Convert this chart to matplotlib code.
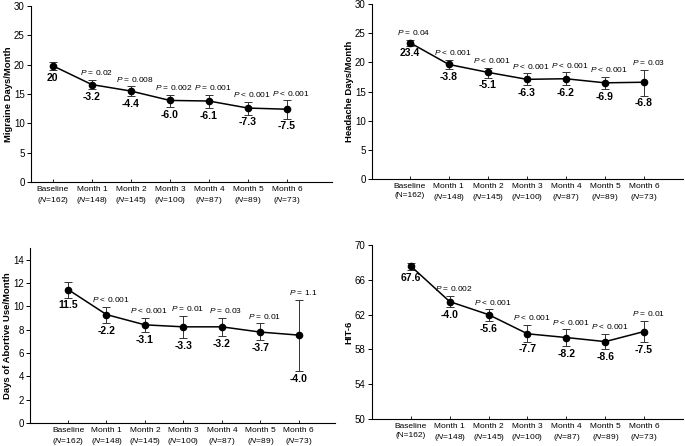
import matplotlib
matplotlib.use("Agg")
import matplotlib.pyplot as plt

plt.rcParams['font.family'] = ['Liberation Sans', 'DejaVu Sans']
plt.rcParams['mathtext.fontset'] = 'custom'
plt.rcParams['mathtext.rm'] = 'Liberation Sans'
plt.rcParams['mathtext.it'] = 'Liberation Sans:italic'
plt.rcParams['mathtext.bf'] = 'Liberation Sans:bold'

months = ['Baseline', 'Month 1', 'Month 2', 'Month 3', 'Month 4', 'Month 5', 'Month 6']
n_counts = [162, 148, 145, 100, 87, 89, 73]

# migraine days / month
mig_mean = [19.8, 16.6, 15.5, 13.9, 13.8, 12.6, 12.4]
mig_hi = [20.5, 17.4, 16.3, 14.85, 14.85, 13.7, 13.9]
mig_lo = [19.1, 15.8, 14.6, 12.8, 12.6, 11.5, 10.8]
mig_change = ['20', '-3.2', '-4.4', '-6.0', '-6.1', '-7.3', '-7.5']
mig_p = ['', '= 0.02', '= 0.008', '= 0.002', '= 0.001', '< 0.001', '< 0.001']

# headache days / month
hd_mean = [23.4, 19.65, 18.3, 17.1, 17.2, 16.5, 16.6]
hd_hi = [23.9, 20.4, 19.1, 18.1, 18.3, 17.5, 18.7]
hd_lo = [22.9, 18.9, 17.4, 16.1, 16.1, 15.4, 14.3]
hd_change = ['23.4', '-3.8', '-5.1', '-6.3', '-6.2', '-6.9', '-6.8']
hd_p = ['= 0.04', '< 0.001', '< 0.001', '< 0.001', '< 0.001', '< 0.001', '= 0.03']

# days of abortive use / month
ab_mean = [11.45, 9.3, 8.42, 8.25, 8.25, 7.8, 7.54]
ab_hi = [12.1, 9.96, 9.0, 9.2, 9.0, 8.54, 10.56]
ab_lo = [10.76, 8.6, 7.77, 7.26, 7.46, 7.09, 4.44]
ab_change = ['11.5', '-2.2', '-3.1', '-3.3', '-3.2', '-3.7', '-4.0']
ab_p = ['', '< 0.001', '< 0.001', '= 0.01', '= 0.03', '= 0.01', '= 1.1']

# HIT-6
hit_mean = [67.58, 63.5, 62.0, 59.8, 59.37, 58.9, 60.06]
hit_hi = [67.97, 64.2, 62.6, 60.8, 60.3, 59.8, 61.3]
hit_lo = [67.1, 62.9, 61.3, 58.9, 58.4, 58.0, 58.8]
hit_change = ['67.6', '-4.0', '-5.6', '-7.7', '-8.2', '-8.6', '-7.5']
hit_p = ['', '= 0.002', '< 0.001', '< 0.001', '< 0.001', '< 0.001', '= 0.01']


def tick_labels(italic_base=True):
    labs = []
    for i, (m, n) in enumerate(zip(months, n_counts)):
        if i == 0 and not italic_base:
            labs.append(f'{m}\n(N={n})')
        else:
            labs.append(f'{m}\n($\\it{{N}}$={n})')
    return labs


def panel(ax, mean, hi, lo, change, pvals, ylabel, ylim, yticks, xlim, italic_base=True):
    x = list(range(len(mean)))
    yerr = [[m - l for m, l in zip(mean, lo)], [h - m for m, h in zip(mean, hi)]]
    ax.errorbar(x, mean, yerr=yerr, color='black', marker='o', markersize=4.5,
                linewidth=1.1, elinewidth=0.7, ecolor='#333333', capsize=3, capthick=0.7)
    for i in x:
        ax.annotate(change[i], (i, lo[i]), xytext=(0, -2), textcoords='offset points',
                    ha='center', va='top', fontsize=7.5, fontweight='bold')
        if pvals[i]:
            ax.annotate(f'$\\it{{P}}$ {pvals[i]}', (i, hi[i]), xytext=(3, 2),
                        textcoords='offset points', ha='center', va='bottom', fontsize=6)
    ax.set_xlim(*xlim)
    ax.set_ylim(*ylim)
    ax.set_yticks(yticks)
    ax.set_xticks(x)
    ax.set_xticklabels(tick_labels(italic_base), fontsize=6, linespacing=1.3)
    ax.set_ylabel(ylabel, fontsize=6.8, fontweight='bold', labelpad=1)
    ax.tick_params(axis='y', labelsize=7, length=3, width=0.7, direction='out', pad=1.5)
    ax.tick_params(axis='x', length=2, width=0.6, direction='in', pad=3)
    for s in ['top', 'right']:
        ax.spines[s].set_visible(False)
    for s in ['left', 'bottom']:
        ax.spines[s].set_linewidth(0.8)


fig = plt.figure(figsize=(6.85, 4.46), dpi=100)
ax1 = fig.add_axes([0.0453, 0.592, 0.439, 0.3946])
ax2 = fig.add_axes([0.543, 0.5987, 0.454, 0.392])
ax3 = fig.add_axes([0.0438, 0.0516, 0.445, 0.392])
ax4 = fig.add_axes([0.543, 0.0605, 0.454, 0.390])

panel(ax1, mig_mean, mig_hi, mig_lo, mig_change, mig_p, 'Migraine Days/Month',
      (0, 30), [0, 5, 10, 15, 20, 25, 30], (-0.56, 7.15))
panel(ax2, hd_mean, hd_hi, hd_lo, hd_change, hd_p, 'Headache Days/Month',
      (0, 30), [0, 5, 10, 15, 20, 25, 30], (-0.97, 7.0), italic_base=False)
panel(ax3, ab_mean, ab_hi, ab_lo, ab_change, ab_p, 'Days of Abortive Use/Month',
      (0, 15), [0, 2, 4, 6, 8, 10, 12, 14], (-0.99, 6.94))
panel(ax4, hit_mean, hit_hi, hit_lo, hit_change, hit_p, 'HIT-6',
      (50, 70), [50, 54, 58, 62, 66, 70], (-1.0, 7.0), italic_base=False)

fig.savefig('out.png', dpi=100)
